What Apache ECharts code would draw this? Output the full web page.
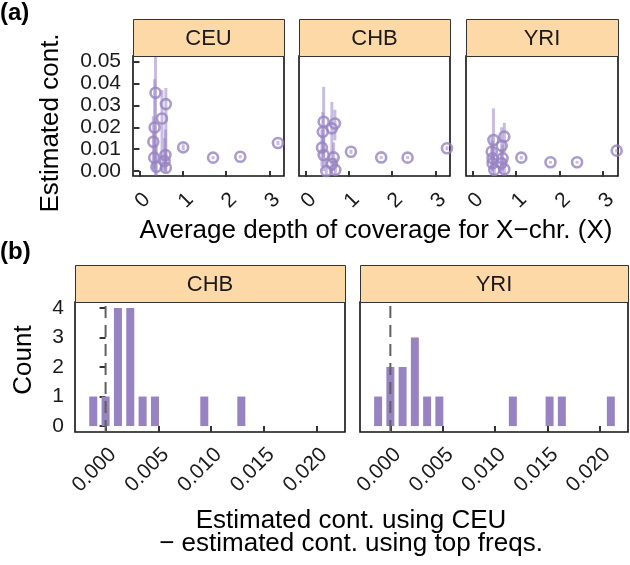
<!DOCTYPE html>
<html><head><meta charset="utf-8">
<script src="https://cdn.jsdelivr.net/npm/echarts@6/dist/echarts.min.js"></script>
<style>html,body{margin:0;padding:0;background:#fff}#c{width:630px;height:565px}</style>
</head><body><div id="c"></div><script>
// ---------- data ----------
const facetsA = ['CEU', 'CHB', 'YRI'];
const facetsB = ['CHB', 'YRI'];
const xTicksA = [0, 1, 2, 3];
const yTicksA = [0, 0.01, 0.02, 0.03, 0.04, 0.05];
const xTicksB = [0, 0.005, 0.01, 0.015, 0.02];
const yTicksB = [0, 1, 2, 3, 4];

// panel (a): depth (X), estimate, lower, upper
const ceuDepth = [0.37, 0.61, 0.52, 0.35, 0.32, 1.01, 3.20, 1.70, 2.33, 0.34, 0.60, 0.39, 0.61, 0.58];
const ceuEst   = [0.0358, 0.0306, 0.0240, 0.0199, 0.0134, 0.0108, 0.0128, 0.0061, 0.0065, 0.0061, 0.0073, 0.0019, 0.0015, 0.0045];
const ceuLo    = [-0.002, 0.002, 0.0005, 0.001, 0.001, 0.0095, 0.0118, 0.0054, 0.0058, 0.0, 0.0, -0.002, -0.001, 0.0];
const ceuHi    = [0.060, 0.038, 0.037, 0.042, 0.025, 0.0122, 0.0138, 0.0068, 0.0072, 0.017, 0.019, 0.012, 0.010, 0.015];

const chbDepth = [0.42, 0.68, 0.40, 0.61, 1.05, 3.27, 1.75, 2.36, 0.38, 0.42, 0.65, 0.61, 0.48, 0.69];
const chbEst   = [0.0225, 0.0217, 0.0179, 0.0195, 0.0088, 0.0104, 0.0062, 0.0061, 0.0107, 0.0073, 0.0062, 0.0032, 0.0000, 0.0005];
const chbLo    = [0.006, 0.014, 0.008, 0.008, 0.0078, 0.0095, 0.0055, 0.0055, 0.002, 0.0, 0.0, -0.001, -0.002, -0.002];
const chbHi    = [0.0385, 0.028, 0.027, 0.0316, 0.0098, 0.0113, 0.0069, 0.0068, 0.019, 0.015, 0.013, 0.009, 0.006, 0.006];

const yriDepth = [0.48, 0.73, 0.67, 0.46, 1.12, 3.31, 1.79, 2.40, 0.46, 0.69, 0.73, 0.50, 0.44, 0.66];
const yriEst   = [0.0142, 0.0157, 0.0115, 0.0058, 0.0061, 0.0093, 0.0040, 0.0040, 0.0035, 0.0058, 0.0008, 0.0005, 0.0088, 0.0035];
const yriLo    = [0.004, 0.008, 0.004, 0.0, 0.0053, 0.0085, 0.0034, 0.0034, -0.002, 0.0, -0.002, -0.002, 0.001, -0.001];
const yriHi    = [0.0286, 0.022, 0.020, 0.014, 0.0069, 0.0101, 0.0046, 0.0046, 0.011, 0.012, 0.006, 0.006, 0.016, 0.010];

// panel (b): histogram bin centres and counts
const chbBinCenter = [-0.00117, 0, 0.00117, 0.00234, 0.00351, 0.00468, 0.00936, 0.01287];
const chbBinCount  = [1, 1, 4, 4, 1, 1, 1, 1];
const yriBinCenter = [-0.00117, 0, 0.00117, 0.00234, 0.00351, 0.00468, 0.0117, 0.01521, 0.01638, 0.02106];
const yriBinCount  = [1, 2, 2, 3, 1, 1, 1, 1, 1, 1];

// ---------- style / layout ----------
const FONT = '"Liberation Sans", Arial, Helvetica, sans-serif';
const purple = '#9782c2';
const errColor = 'rgba(155,135,200,0.55)';
const stripFill = '#fed9a8';
const barHalf = 0.00038;
const gridsA = [
  {left: 133, top: 56, width: 151, height: 120},
  {left: 299, top: 56, width: 151, height: 120},
  {left: 466, top: 56, width: 152, height: 120}
];
const gridsB = [
  {left: 75, top: 302, width: 270, height: 130},
  {left: 360, top: 302, width: 268, height: 130}
];
const stripH = 37;

const dataA = [
  [ceuDepth, ceuEst, ceuLo, ceuHi],
  [chbDepth, chbEst, chbLo, chbHi],
  [yriDepth, yriEst, yriLo, yriHi]
];
const dataB = [[chbBinCenter, chbBinCount], [yriBinCenter, yriBinCount]];

const tickStyle = {color: '#333', width: 2};
const grid = [], xAxis = [], yAxis = [], series = [], graphic = [];

gridsA.concat(gridsB).forEach(g => grid.push(Object.assign({
  show: true, borderColor: '#111', borderWidth: 1.6, backgroundColor: '#fff', containLabel: false
}, g)));

// axes panel a
gridsA.forEach((g, i) => {
  xAxis.push({
    type: 'value', gridIndex: i, min: -0.15, max: 3.34,
    splitLine: {show: false}, axisLine: {show: false},
    axisTick: {show: true, length: 6, lineStyle: tickStyle, customValues: xTicksA},
    axisLabel: {customValues: xTicksA, rotate: 45, align: 'right', verticalAlign: 'top', margin: 13,
      fontSize: 21, color: '#1a1a1a', fontFamily: FONT, formatter: v => String(v)}
  });
  yAxis.push({
    type: 'value', gridIndex: i, min: -0.0023, max: 0.0526,
    splitLine: {show: false}, axisLine: {show: false},
    axisTick: {show: i === 0, length: 6, lineStyle: tickStyle, customValues: yTicksA},
    axisLabel: {show: i === 0, customValues: yTicksA, margin: 12, fontSize: 21, color: '#1a1a1a',
      fontFamily: FONT, formatter: v => v.toFixed(2)}
  });
});
// axes panel b
gridsB.forEach((g, j) => {
  const i = j + 3;
  xAxis.push({
    type: 'value', gridIndex: i, min: -0.0029, max: 0.0227,
    splitLine: {show: false}, axisLine: {show: false},
    axisTick: {show: true, length: 6, lineStyle: tickStyle, customValues: xTicksB},
    axisLabel: {customValues: xTicksB, rotate: 45, align: 'right', verticalAlign: 'top', margin: 12,
      fontSize: 21, color: '#1a1a1a', fontFamily: FONT, formatter: v => v.toFixed(3)}
  });
  yAxis.push({
    type: 'value', gridIndex: i, min: -0.2, max: 4.2,
    splitLine: {show: false}, axisLine: {show: false},
    axisTick: {show: j === 0, length: 6, lineStyle: tickStyle, customValues: yTicksB},
    axisLabel: {show: j === 0, customValues: yTicksB, margin: 11, fontSize: 21, color: '#1a1a1a',
      fontFamily: FONT, formatter: v => String(v)}
  });
});

// series panel a
dataA.forEach((d, i) => {
  const [dep, est, lo, hi] = d;
  series.push({
    type: 'custom', xAxisIndex: i, yAxisIndex: i, clip: true, z: 2,
    data: dep.map((x, k) => [x, lo[k], hi[k]]),
    encode: {x: 0, y: [1, 2]},
    renderItem: (params, api) => {
      const p1 = api.coord([api.value(0), api.value(1)]);
      const p2 = api.coord([api.value(0), api.value(2)]);
      return {type: 'line', shape: {x1: p1[0], y1: p1[1], x2: p2[0], y2: p2[1]},
        style: {stroke: errColor, lineWidth: 3}};
    }
  });
  series.push({
    type: 'scatter', xAxisIndex: i, yAxisIndex: i, z: 3,
    data: dep.map((x, k) => [x, est[k]]),
    symbol: 'circle', symbolSize: 10,
    itemStyle: {color: 'rgba(255,255,255,0)', borderColor: purple, borderWidth: 2.6}
  });
});

// series panel b
dataB.forEach((d, j) => {
  const i = j + 3;
  const [cen, cnt] = d;
  series.push({
    type: 'custom', xAxisIndex: i, yAxisIndex: i, clip: true, z: 2,
    data: cen.map((c, k) => [c, cnt[k]]),
    encode: {x: 0, y: 1},
    renderItem: (params, api) => {
      const c = api.value(0), n = api.value(1);
      const p0 = api.coord([c - barHalf, 0]);
      const p1 = api.coord([c + barHalf, n]);
      return {type: 'rect', shape: {x: p0[0], y: p1[1], width: p1[0] - p0[0], height: p0[1] - p1[1]},
        style: {fill: purple}};
    }
  });
  series.push({
    type: 'line', xAxisIndex: i, yAxisIndex: i, z: 5, symbol: 'none', silent: true,
    data: [[0, -0.2], [0, 4.2]],
    lineStyle: {color: '#5f5f5f', width: 2, type: [12, 7]}
  });
});

// strips
const strips = [];
gridsA.forEach((g, i) => strips.push([g, facetsA[i]]));
gridsB.forEach((g, i) => strips.push([g, facetsB[i]]));
strips.forEach(([g, name]) => {
  graphic.push({type: 'rect', left: g.left, top: g.top - stripH, z: 10,
    shape: {width: g.width, height: stripH},
    style: {fill: stripFill, stroke: '#333', lineWidth: 1}});
  graphic.push({type: 'text', x: g.left + g.width / 2, y: g.top - stripH / 2 + 1, z: 11,
    style: {text: name, font: '22px ' + FONT, fill: '#1a1a1a', textAlign: 'center', textVerticalAlign: 'middle'}});
});

// titles
const txt = (x, y, s, size, extra) => Object.assign({type: 'text', x, y, z: 11,
  style: {text: s, font: size + 'px ' + FONT, fill: '#000', textAlign: 'center', textVerticalAlign: 'middle'}}, extra || {});
graphic.push(txt(376, 231, 'Average depth of coverage for X\u2212chr. (X)', 26));
graphic.push(txt(51, 123, 'Estimated cont.', 26, {rotation: Math.PI / 2}));
graphic.push(txt(24, 360, 'Count', 26, {rotation: Math.PI / 2}));
graphic.push(txt(351, 521, 'Estimated cont. using CEU', 26));
graphic.push(txt(351, 544, '\u2212 estimated cont. using top freqs.', 26));
graphic.push({type: 'text', x: 0, y: 13, z: 11,
  style: {text: '(a)', font: 'bold 24px ' + FONT, fill: '#000', textAlign: 'left', textVerticalAlign: 'middle'}});
graphic.push({type: 'text', x: 0, y: 252, z: 11,
  style: {text: '(b)', font: 'bold 24px ' + FONT, fill: '#000', textAlign: 'left', textVerticalAlign: 'middle'}});

const chart = echarts.init(document.getElementById('c'), null, {renderer: 'canvas'});
chart.setOption({
  animation: false,
  backgroundColor: '#fff',
  textStyle: {fontFamily: FONT},
  grid, xAxis, yAxis, series, graphic
});
</script></body></html>
